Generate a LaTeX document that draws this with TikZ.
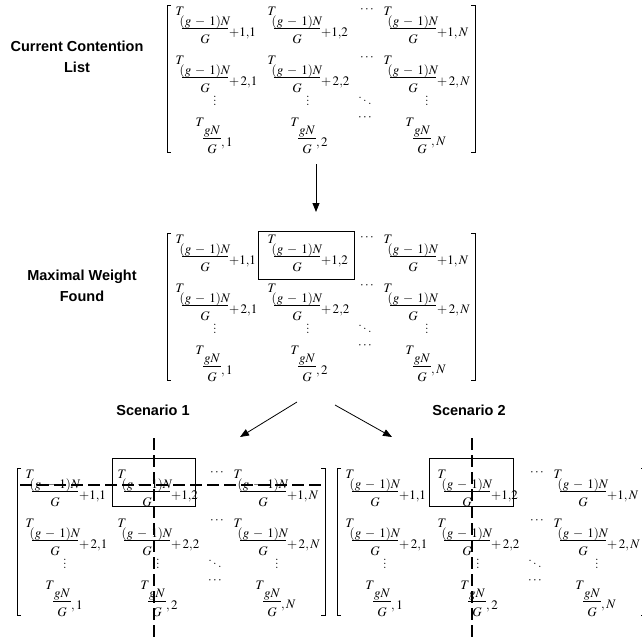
\documentclass[tikz,border=0pt]{standalone}
\usepackage{mathptmx}
\usepackage{fontspec}
\newfontfamily\labfont{Liberation Sans}
\usetikzlibrary{arrows.meta}
\tikzset{
 mtxt/.style={inner sep=0pt, font=\fontsize{13}{15}\selectfont},
 brk/.style={line width=0.7pt},
 fl/.style={line width=0.6pt},
 lab/.style={font=\labfont\bfseries\fontsize{14.5}{21}\selectfont, align=center, inner sep=0pt},
 arr/.style={line width=0.8pt, -{Triangle[length=9pt,width=7pt]}},
 selbox/.style={draw, line width=1pt},
 cut/.style={line width=2pt, dash pattern=on 12pt off 5pt},
}
\newcommand\gmo{(g\mskip3mu - \mskip3mu 1)N}
\newcommand\bigent[4]{%
 \node[mtxt] (#1-T) at (#2-25,#3-17) {$T$};
 \node[mtxt] (#1-n) at (#2,#3-6) {$\gmo$};
 \draw[fl] (#2-23,#3) -- (#2+23,#3);
 \node[mtxt] (#1-d) at (#2,#3+11) {$G$};
 \node[mtxt,anchor=west] (#1-s) at (#2+24,#3+5) {$#4$};
}
\newcommand\smallent[4]{%
 \node[mtxt] (#1-T) at (#2-12,#3-16) {$T$};
 \node[mtxt] (#1-n) at (#2,#3-6) {$gN$};
 \draw[fl] (#2-9,#3) -- (#2+9,#3);
 \node[mtxt] (#1-d) at (#2,#3+11) {$G$};
 \node[mtxt,anchor=west] (#1-s) at (#2+9,#3+5) {$#4$};
}
\newcommand\drawmat[3]{%
\begin{scope}[shift={(#2,#3)}]
 \draw[brk] (4,0) -- (0,0) -- (0,147) -- (4,147);
 \draw[brk] (304,0) -- (308,0) -- (308,147) -- (304,147);
 \bigent{#1a}{38}{23}{+1{,}1}
 \bigent{#1b}{130}{23}{+1{,}2}
 \bigent{#1c}{246}{23}{+1,N}
 \bigent{#1d}{38}{72}{+\,2{,}1}
 \bigent{#1e}{130}{72}{+\,2{,}2}
 \bigent{#1f}{246}{72}{+\,2,N}
 \smallent{#1g}{45}{133}{,1}
 \smallent{#1h}{140}{133}{,2}
 \smallent{#1i}{255}{133}{,N}
 \node[mtxt] (#1-c1) at (200,5) {$\cdots$};
 \node[mtxt] (#1-c2) at (200,53) {$\cdots$};
 \node[mtxt] (#1-c3) at (198,113) {$\cdots$};
 \node[mtxt] (#1-v1) at (48,93) {$\vdots$};
 \node[mtxt] (#1-v2) at (141,93) {$\vdots$};
 \node[mtxt] (#1-v3) at (260,93) {$\vdots$};
 \node[mtxt] (#1-dd) at (198,93) {$\ddots$};
\end{scope}}
\begin{document}
\begin{tikzpicture}[x=1pt,y=-1pt]
\useasboundingbox (0,0) rectangle (642,637);
\node[lab] (l1) at (77,56.5) {Current Contention\\List};
\node[lab] (l2) at (82,286) {Maximal Weight\\Found};
\node[lab] (l3) at (153,410) {Scenario 1};
\node[lab] (l4) at (469,410) {Scenario 2};
\drawmat{ma}{167}{5}
\drawmat{mb}{167}{233}
\drawmat{mc}{17}{468}
\drawmat{md}{337}{468}
\node[selbox, minimum width=96pt, minimum height=48pt] (bx2) at (306,255) {};
\node[selbox, minimum width=83pt, minimum height=48pt] (bx3) at (153.5,482) {};
\node[selbox, minimum width=84pt, minimum height=48pt] (bx4) at (471,482) {};
\coordinate (a1s) at (316,164);
\coordinate (a1e) at (316,212);
\coordinate (a2s) at (297,402);
\coordinate (a2e) at (240,437);
\coordinate (a3s) at (335,405);
\coordinate (a3e) at (392,437);
\draw[arr] (a1s) -- (a1e);
\draw[arr] (a2s) -- (a2e);
\draw[arr] (a3s) -- (a3e);
\coordinate (h1) at (20,485);
\coordinate (h2) at (322,485);
\coordinate (v1) at (154,438);
\coordinate (v2) at (154,640);
\coordinate (w1) at (472,438);
\coordinate (w2) at (472,640);
\draw[cut] (h1) -- (h2);
\draw[cut] (v1) -- (v2);
\draw[cut] (w1) -- (w2);
\end{tikzpicture}
\end{document}
